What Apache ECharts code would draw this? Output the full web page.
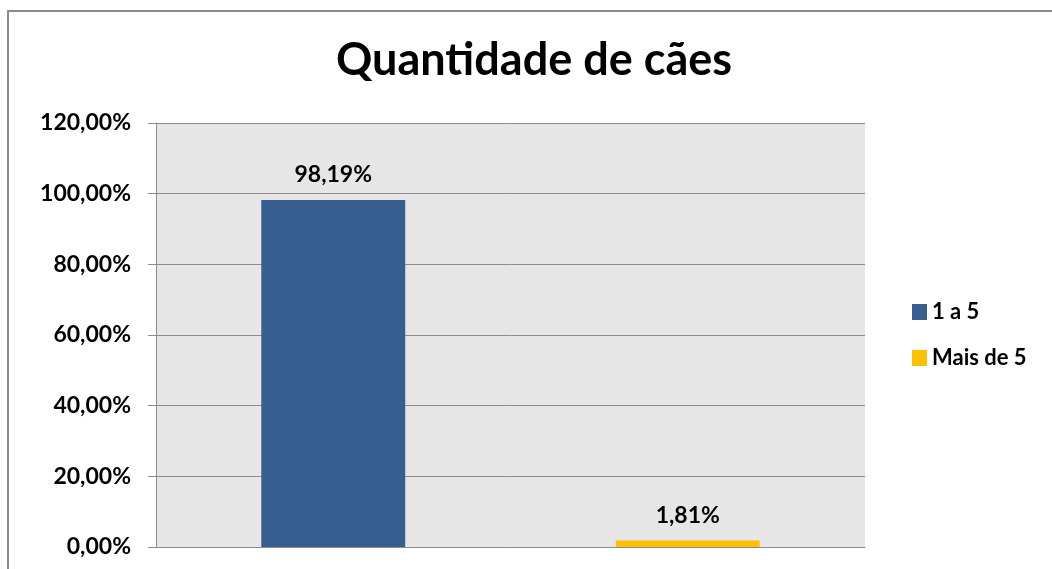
<!DOCTYPE html>
<html lang="pt">
<head>
<meta charset="UTF-8">
<title>Quantidade de cães</title>
<style>
  html, body { margin: 0; padding: 0; background: #fff; }
  #chart { width: 1052px; height: 569px; }
</style>
<script src="https://cdn.jsdelivr.net/npm/echarts@6/dist/echarts.min.js"></script>
</head>
<body>
<div id="chart"></div>
<script>
// dados
var categorias = ['1 a 5', 'Mais de 5'];
var series1a5 = [98.19, '-'];
var seriesMais5 = ['-', 1.81];
var yTicks = { min: 0, max: 120, interval: 20 };

var fonte = 'Lato, "Open Sans", sans-serif';

function pct(v) {
  return v.toFixed(2).replace('.', ',') + '%';
}

var myChart = echarts.init(document.getElementById('chart'));

var option = {
  backgroundColor: '#ffffff',
  animation: false,
  title: {
    text: 'Quantidade de cães',
    left: 331,
    top: 33,
    textStyle: { fontFamily: fonte, fontSize: 45, fontWeight: 'bold', color: '#000' }
  },
  graphic: [{
    type: 'rect',
    shape: { x: 8, y: 11, width: 1200, height: 700 },
    style: { fill: 'none', stroke: '#8c8c8c', lineWidth: 2 },
    silent: true
  }],
  legend: {
    orient: 'vertical',
    left: 907,
    top: 296,
    itemWidth: 15,
    itemHeight: 16,
    itemGap: 24,
    icon: 'rect',
    textStyle: { fontFamily: fonte, fontSize: 22, fontWeight: 'bold', color: '#000', padding: [0, 0, 0, 0] },
    data: categorias
  },
  grid: {
    left: 156, top: 123, right: 187, bottom: 22,
    show: true, backgroundColor: '#e6e6e6', borderWidth: 0
  },
  xAxis: {
    type: 'category',
    data: categorias,
    axisLine: { lineStyle: { color: '#8c8c8c', width: 1 } },
    axisTick: { show: false },
    axisLabel: { show: false }
  },
  yAxis: {
    type: 'value',
    min: yTicks.min,
    max: yTicks.max,
    interval: yTicks.interval,
    axisLine: { show: true, lineStyle: { color: '#8c8c8c', width: 1 } },
    axisTick: { show: true, length: 8, lineStyle: { color: '#8c8c8c' } },
    splitLine: { lineStyle: { color: '#8c8c8c', width: 1 } },
    axisLabel: {
      margin: 25,
      formatter: pct,
      fontFamily: fonte, fontSize: 23, fontWeight: 'bold', color: '#000'
    }
  },
  series: [{
    name: '1 a 5',
    type: 'bar',
    stack: 'total',
    barWidth: '40.6%',
    data: series1a5,
    itemStyle: { color: '#365e8f' },
    label: {
      show: true, position: 'top', distance: 14,
      formatter: function (p) { return pct(p.value); },
      fontFamily: fonte, fontSize: 23, fontWeight: 'bold', color: '#000'
    }
  }, {
    name: 'Mais de 5',
    type: 'bar',
    stack: 'total',
    barWidth: '40.6%',
    data: seriesMais5,
    itemStyle: { color: '#ffc000' },
    label: {
      show: true, position: 'top', distance: 14,
      formatter: function (p) { return pct(p.value); },
      fontFamily: fonte, fontSize: 23, fontWeight: 'bold', color: '#000'
    }
  }]
};

myChart.setOption(option);
</script>
</body>
</html>
